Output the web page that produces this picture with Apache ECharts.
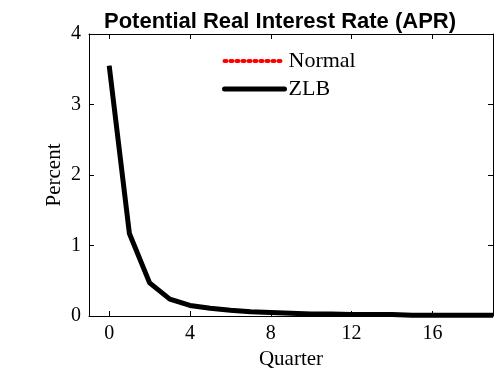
<!DOCTYPE html>
<html><head><meta charset="utf-8">
<script src="https://cdn.jsdelivr.net/npm/echarts@6/dist/echarts.min.js"></script>
<style>html,body{margin:0;padding:0;background:#fff}#c{width:495px;height:375px}</style>
</head><body><div id="c"></div>
<script>
const quarters = [0,1,2,3,4,5,6,7,8,9,10,11,12,13,14,15,16,17,18,19];
const normalVals = [3.55,1.17,0.47,0.24,0.15,0.11,0.08,0.06,0.05,0.04,0.03,0.03,0.02,0.02,0.02,0.01,0.01,0.01,0.01,0.01];
const zlbVals = [3.55,1.17,0.47,0.24,0.15,0.11,0.08,0.06,0.05,0.04,0.03,0.03,0.02,0.02,0.02,0.01,0.01,0.01,0.01,0.01];
const xTicks = [0,4,8,12,16];
const yTicks = [0,1,2,3,4];

const serif = 'Liberation Serif';
const chart = echarts.init(document.getElementById('c'));
const axLine = {show:true, onZero:false, lineStyle:{color:'#000', width:1}};
chart.setOption({
  animation:false,
  title:{text:'Potential Real Interest Rate (APR)', left:275, top:6, textAlign:'center',
    textStyle:{fontFamily:'Liberation Sans', fontWeight:'bold', fontSize:22, color:'#000'}},
  legend:{orient:'vertical', left:217, top:45, itemWidth:60, itemHeight:12, itemGap:6,
    itemStyle:{opacity:0},
    textStyle:{fontFamily:serif, fontSize:22, color:'#000', padding:[0,0,0,-1]},
    data:[{name:'Normal', lineStyle:{width:4, type:[2,4], cap:'round'}},
          {name:'ZLB', lineStyle:{width:5, cap:'round'}}]},
  grid:{left:89, right:2, top:34, bottom:59},
  xAxis:[{type:'value', min:-1, max:19, position:'bottom',
    name:'Quarter', nameLocation:'middle', nameGap:33, nameMoveOverlap:false,
    nameTextStyle:{fontFamily:serif, fontSize:21, color:'#000'},
    axisLine:axLine, splitLine:{show:false},
    axisTick:{show:true, inside:true, length:5, customValues:xTicks, lineStyle:{color:'#000'}},
    axisLabel:{customValues:xTicks, fontFamily:serif, fontSize:20, color:'#000', margin:8}},
   {type:'value', min:-1, max:19, position:'top',
    axisLine:axLine, splitLine:{show:false},
    axisTick:{show:true, inside:true, length:5, customValues:xTicks, lineStyle:{color:'#000'}},
    axisLabel:{show:false}}],
  yAxis:[{type:'value', min:0, max:4, interval:1, position:'left',
    name:'Percent', nameLocation:'middle', nameGap:24, nameMoveOverlap:false,
    nameTextStyle:{fontFamily:serif, fontSize:21, color:'#000'},
    axisLine:axLine, splitLine:{show:false},
    axisTick:{show:true, inside:true, length:5, lineStyle:{color:'#000'}},
    axisLabel:{fontFamily:serif, fontSize:20, color:'#000', margin:8,
      customValues:yTicks}},
   {type:'value', min:0, max:4, interval:1, position:'right',
    axisLine:axLine, splitLine:{show:false},
    axisTick:{show:true, inside:true, length:5, lineStyle:{color:'#000'}},
    axisLabel:{show:false}}],
  series:[
    {name:'Normal', type:'line', data:quarters.map((q,i)=>[q,normalVals[i]]),
     symbol:'none', lineStyle:{color:'#ff0000', width:3, type:[3,3]}, itemStyle:{color:'#ff0000'}, z:2},
    {name:'ZLB', type:'line', data:quarters.map((q,i)=>[q,zlbVals[i]]),
     symbol:'none', lineStyle:{color:'#000', width:5}, itemStyle:{color:'#000'}, z:3}
  ]
});
</script></body></html>
